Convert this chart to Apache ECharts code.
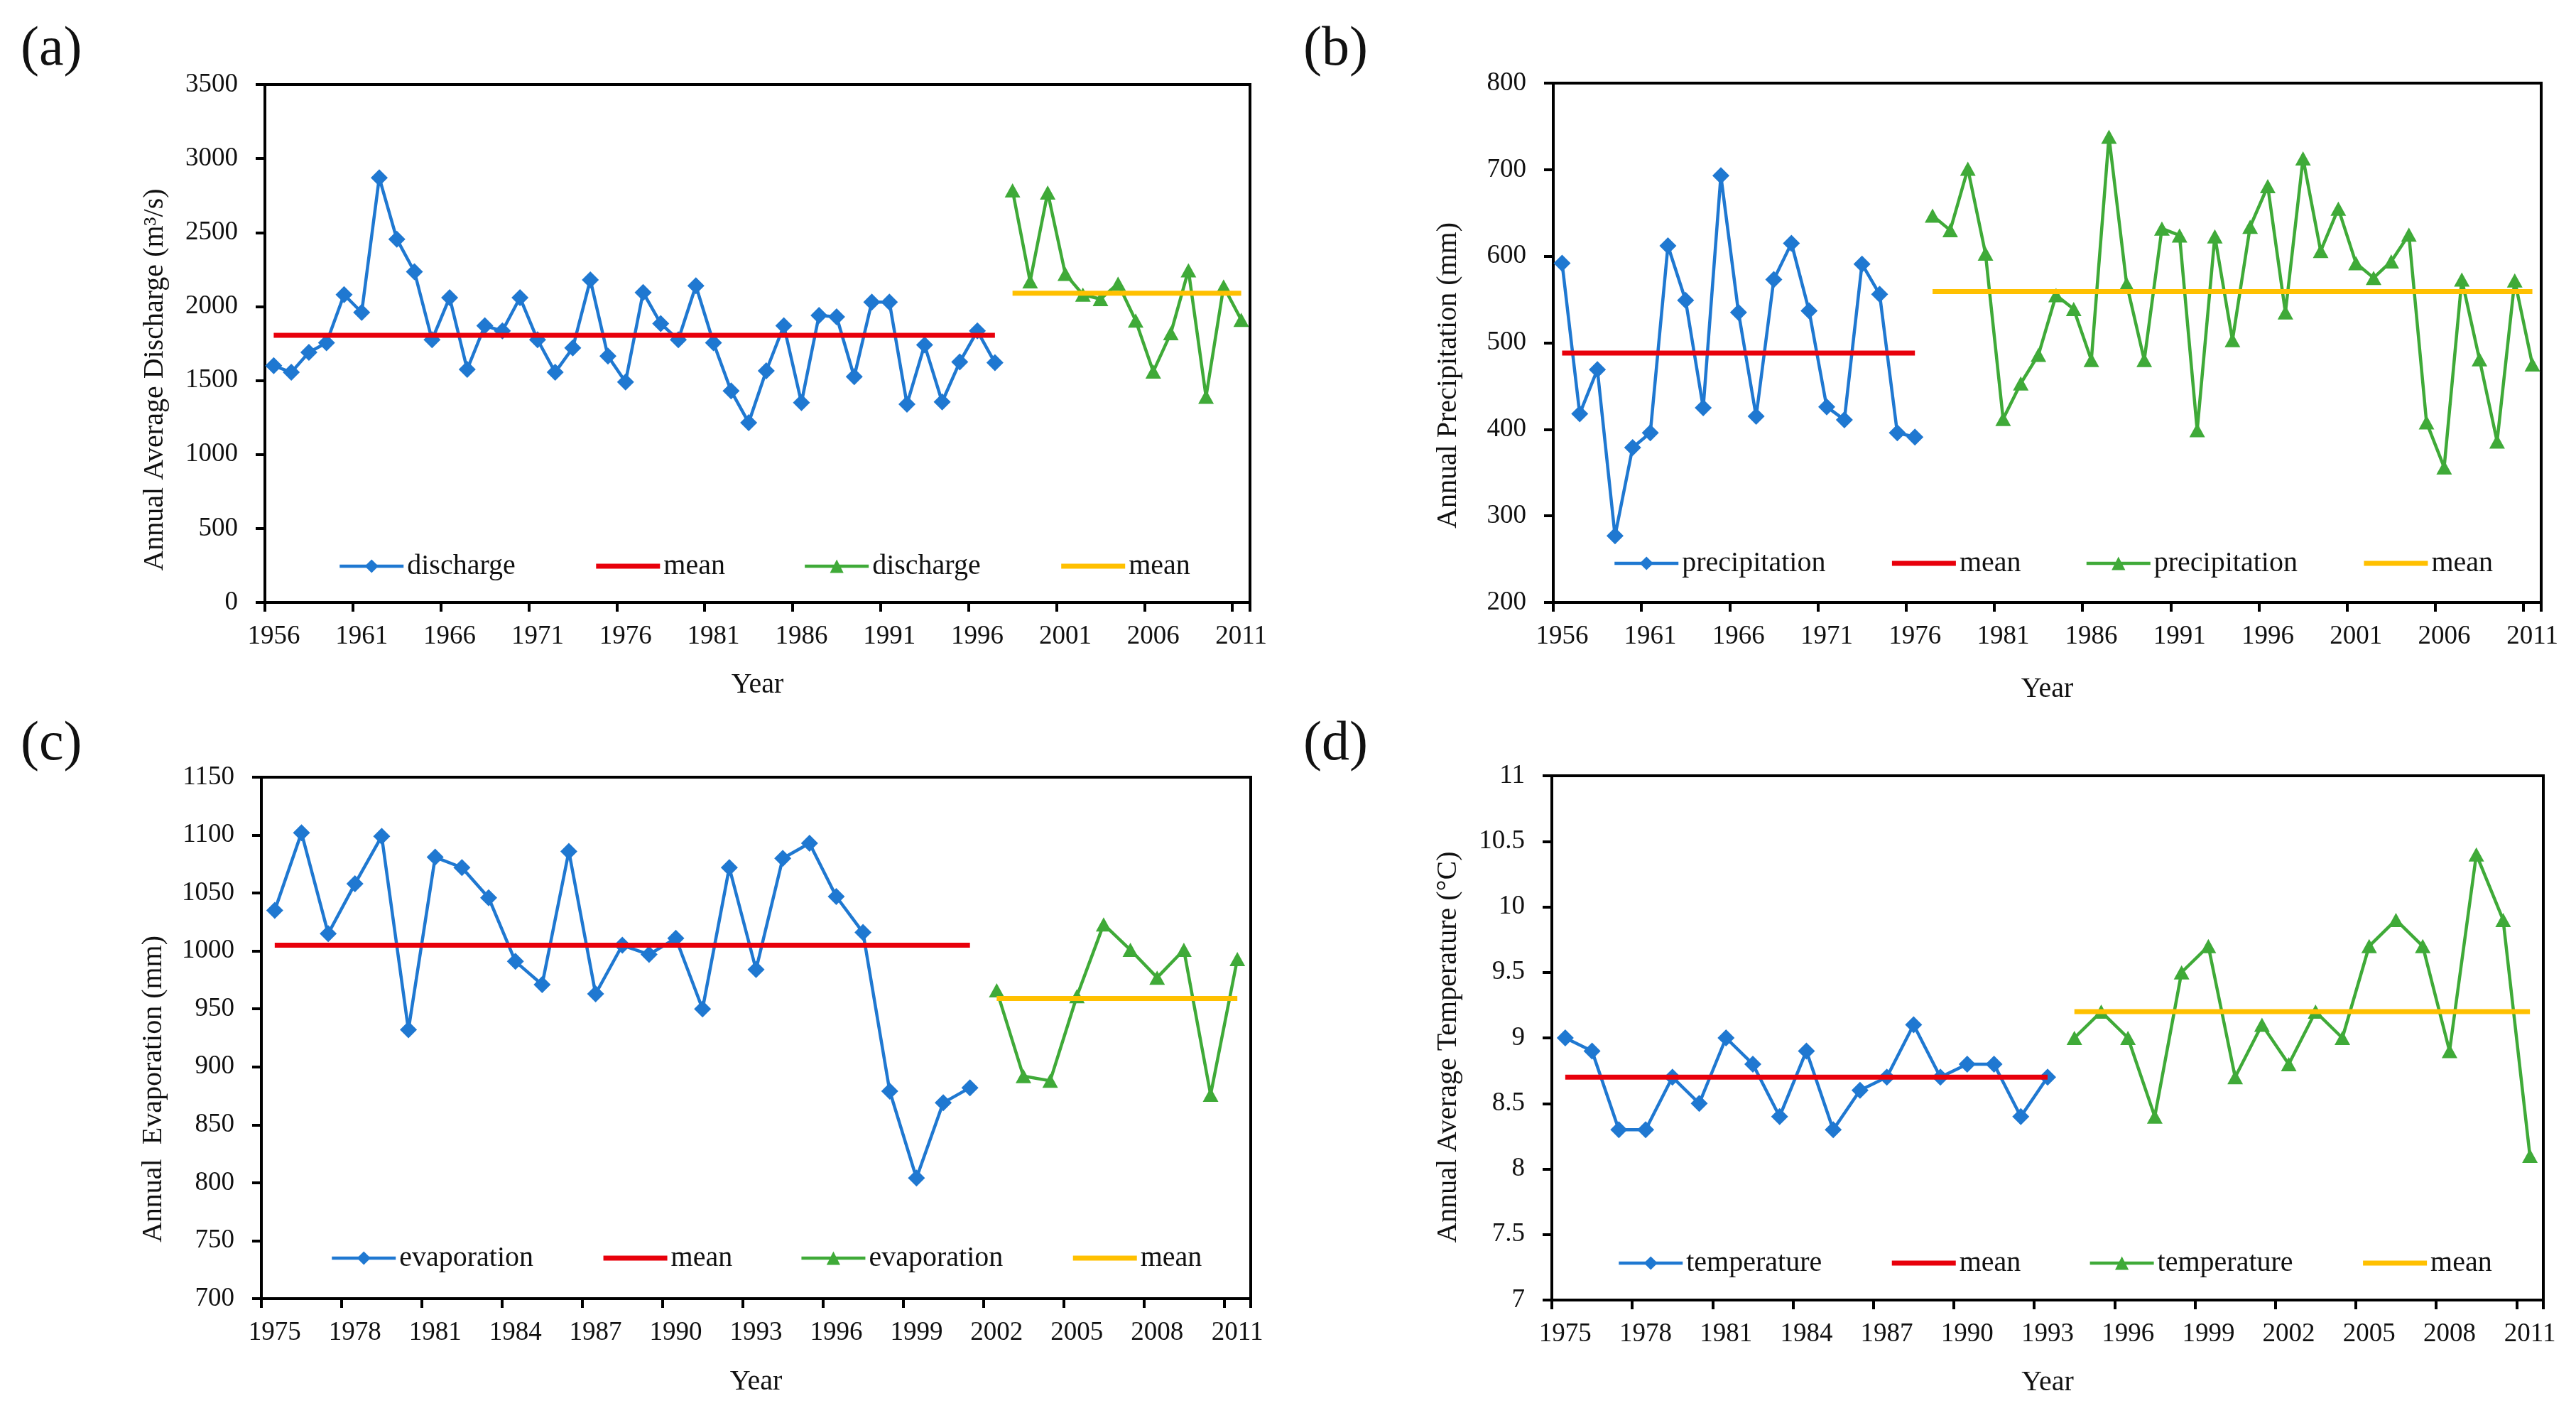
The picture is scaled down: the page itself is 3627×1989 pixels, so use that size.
<!DOCTYPE html>
<html>
<head>
<meta charset="utf-8">
<script src="https://cdn.jsdelivr.net/npm/echarts@6/dist/echarts.min.js"></script>
<style>
html,body{margin:0;padding:0;background:#fff;}
#c{width:3627px;height:1989px;}
</style>
</head>
<body>
<div id="c"></div>
<script>
// ---------- categories / tick labels ----------
const yearsAB = ['1956','1957','1958','1959','1960','1961','1962','1963','1964','1965','1966','1967','1968','1969','1970','1971','1972','1973','1974','1975','1976','1977','1978','1979','1980','1981','1982','1983','1984','1985','1986','1987','1988','1989','1990','1991','1992','1993','1994','1995','1996','1997','1998','1999','2000','2001','2002','2003','2004','2005','2006','2007','2008','2009','2010','2011'];
const yearsCD = ['1975','1976','1977','1978','1979','1980','1981','1982','1983','1984','1985','1986','1987','1988','1989','1990','1991','1992','1993','1994','1995','1996','1997','1998','1999','2000','2001','2002','2003','2004','2005','2006','2007','2008','2009','2010','2011'];

// ---------- (a) discharge ----------
const dischargeStart1 = '1956';
const discharge1 = [1600,1555,1690,1755,2080,1960,2870,2455,2235,1775,2060,1575,1870,1835,2060,1775,1555,1720,2180,1665,1490,2095,1885,1775,2140,1755,1430,1215,1565,1870,1350,1940,1930,1525,2030,2030,1340,1740,1355,1625,1835,1620];
const dischargeStart2 = '1998';
const discharge2 = [2785,2170,2770,2220,2080,2050,2155,1905,1560,1820,2245,1390,2135,1910];
const dischargeMean1 = 1805;
const dischargeMean2 = 2090;

// ---------- (b) precipitation ----------
const precipStart1 = '1956';
const precip1 = [592,418,469,277,379,396,612,549,425,693,535,415,573,615,537,426,411,591,556,396,391];
const precipStart2 = '1977';
const precip2 = [647,630,701,603,412,453,486,555,539,480,738,568,480,632,624,399,623,503,634,681,535,713,606,655,592,575,594,625,408,356,573,481,386,572,475];
const precipMean1 = 488;
const precipMean2 = 559;

// ---------- (c) evaporation ----------
const evapStart1 = '1975';
const evap1 = [1035,1102,1015,1058,1099,932,1081,1072,1046,991,971,1086,963,1005,997,1011,950,1072,984,1080,1093,1047,1016,879,804,869,882];
const evapStart2 = '2002';
const evap2 = [966,892,888,961,1023,1001,977,1001,876,993];
const evapMean1 = 1005;
const evapMean2 = 959;

// ---------- (d) temperature ----------
const tempStart1 = '1975';
const temp1 = [9.0,8.9,8.3,8.3,8.7,8.5,9.0,8.8,8.4,8.9,8.3,8.6,8.7,9.1,8.7,8.8,8.8,8.4,8.7];
const tempStart2 = '1994';
const temp2 = [9.0,9.2,9.0,8.4,9.5,9.7,8.7,9.1,8.8,9.2,9.0,9.7,9.9,9.7,8.9,10.4,9.9,8.1];
const tempMean1 = 8.7;
const tempMean2 = 9.2;

// ---------- styling ----------
const FONT = "'Liberation Serif','Times New Roman',serif";
const TXT = '#111';
const BLUE = '#1F78D1';
const GREEN = '#3FAA38';
const RED = '#E8000B';
const GOLD = '#FFC000';
const SERIES_W = 4.5;
const MEAN_W = 7;

function pairs(cats, start, vals) {
  const s = cats.indexOf(start);
  return vals.map((v, i) => [cats[s + i], v]);
}
function meanPairs(cats, start, len, m) {
  const s = cats.indexOf(start);
  return [[cats[s], m], [cats[s + len - 1], m]];
}

const panels = [
  {label:'(a)', lx:29, ly:32, cats:yearsAB, tick:4,
   grid:{left:373, top:119, width:1387, height:729},
   ymin:0, ymax:3500, yint:500, yname:'Annual Average Discharge (m³/s)', ynameGap:135, yshift:51, xnameGap:96,
   lname:'discharge', s1:dischargeStart1, v1:discharge1, s2:dischargeStart2, v2:discharge2, m1:dischargeMean1, m2:dischargeMean2,
   legend:{left:476, top:775, gap:110}},
  {label:'(b)', lx:1835, ly:32, cats:yearsAB, tick:4,
   grid:{left:2187, top:117, width:1391, height:731},
   ymin:200, ymax:800, yint:100, yname:'Annual Precipitation (mm)', ynameGap:128, yshift:46, xnameGap:102,
   lname:'precipitation', s1:precipStart1, v1:precip1, s2:precipStart2, v2:precip2, m1:precipMean1, m2:precipMean2,
   legend:{left:2271, top:771, gap:90}},
  {label:'(c)', lx:29, ly:1010, cats:yearsCD, tick:2,
   grid:{left:368, top:1094, width:1393, height:734},
   ymin:700, ymax:1150, yint:50, yname:'Annual  Evaporation (mm)', ynameGap:132, yshift:72, xnameGap:97,
   lname:'evaporation', s1:evapStart1, v1:evap1, s2:evapStart2, v2:evap2, m1:evapMean1, m2:evapMean2,
   legend:{left:465, top:1749, gap:95}},
  {label:'(d)', lx:1835, ly:1010, cats:yearsCD, tick:2,
   grid:{left:2185, top:1092, width:1396, height:738},
   ymin:7, ymax:11, yint:0.5, yname:'Annual Average Temperature (°C)', ynameGap:126, yshift:13, xnameGap:96,
   lname:'temperature', s1:tempStart1, v1:temp1, s2:tempStart2, v2:temp2, m1:tempMean1, m2:tempMean2,
   legend:{left:2277, top:1756, gap:95}}
];

const option = {
  animation:false,
  backgroundColor:'#ffffff',
  title:[], grid:[], xAxis:[], yAxis:[], legend:[], series:[]
};

panels.forEach((p, k) => {
  option.title.push({text:p.label, left:p.lx, top:p.ly, padding:0,
    textStyle:{fontFamily:FONT, fontSize:78, fontWeight:'normal', color:TXT}});
  option.grid.push(Object.assign({show:true, borderColor:'#000', borderWidth:4, backgroundColor:'transparent', containLabel:false}, p.grid));
  option.xAxis.push({
    type:'category', gridIndex:k, data:p.cats, boundaryGap:true,
    name:'Year', nameLocation:'middle', nameGap:p.xnameGap,
    nameTextStyle:{fontFamily:FONT, fontSize:40, color:TXT},
    axisLine:{show:true, lineStyle:{color:'#000', width:4}},
    axisTick:{show:true, interval:p.tick, length:13, alignWithLabel:false, lineStyle:{color:'#000', width:4}},
    axisLabel:{interval:p.tick, margin:30, fontFamily:FONT, fontSize:37, color:TXT},
    splitLine:{show:false}
  });
  option.yAxis.push({
    type:'value', gridIndex:k, min:p.ymin, max:p.ymax, interval:p.yint,
    name:p.yname, nameLocation:'middle', nameGap:p.ynameGap,
    nameTextStyle:{fontFamily:FONT, fontSize:40, color:TXT, padding:[0, 2*p.yshift, 0, 0]},
    axisLine:{show:true, lineStyle:{color:'#000', width:4}},
    axisTick:{show:true, length:13, lineStyle:{color:'#000', width:4}},
    axisLabel:{margin:38, fontFamily:FONT, fontSize:37, color:TXT, formatter: v => String(v)},
    splitLine:{show:false}
  });
  const nm = s => s + '#' + k;
  const n1 = nm(p.lname + '#1'), n2 = nm('mean#1'), n3 = nm(p.lname + '#2'), n4 = nm('mean#2');
  option.legend.push({
    left:p.legend.left, top:p.legend.top, orient:'horizontal',
    itemWidth:90, itemHeight:24, itemGap:p.legend.gap, padding:0, selectedMode:false,
    data:[
      {name:n1, lineStyle:{width:SERIES_W}},
      {name:n2, lineStyle:{width:MEAN_W}, itemStyle:{opacity:0}},
      {name:n3, lineStyle:{width:SERIES_W}},
      {name:n4, lineStyle:{width:MEAN_W}, itemStyle:{opacity:0}}
    ],
    formatter: s => s.split('#')[0],
    textStyle:{fontFamily:FONT, fontSize:40, color:TXT, lineHeight:44}
  });
  option.series.push({
    name:n1, type:'line', xAxisIndex:k, yAxisIndex:k,
    data:pairs(p.cats, p.s1, p.v1),
    symbol:'diamond', symbolSize:24, showSymbol:true, showAllSymbol:true,
    lineStyle:{color:BLUE, width:SERIES_W}, itemStyle:{color:BLUE}, z:3
  });
  option.series.push({
    name:n2, type:'line', xAxisIndex:k, yAxisIndex:k,
    data:meanPairs(p.cats, p.s1, p.v1.length, p.m1),
    symbol:'none', showSymbol:false,
    lineStyle:{color:RED, width:MEAN_W}, itemStyle:{color:RED}, z:4
  });
  option.series.push({
    name:n3, type:'line', xAxisIndex:k, yAxisIndex:k,
    data:pairs(p.cats, p.s2, p.v2),
    symbol:'triangle', symbolSize:[22,20], showSymbol:true, showAllSymbol:true,
    lineStyle:{color:GREEN, width:SERIES_W}, itemStyle:{color:GREEN}, z:3
  });
  option.series.push({
    name:n4, type:'line', xAxisIndex:k, yAxisIndex:k,
    data:meanPairs(p.cats, p.s2, p.v2.length, p.m2),
    symbol:'none', showSymbol:false,
    lineStyle:{color:GOLD, width:MEAN_W}, itemStyle:{color:GOLD}, z:4
  });
});

const chart = echarts.init(document.getElementById('c'), null, {renderer:'canvas', width:3627, height:1989});
chart.setOption(option);
</script>
</body>
</html>
